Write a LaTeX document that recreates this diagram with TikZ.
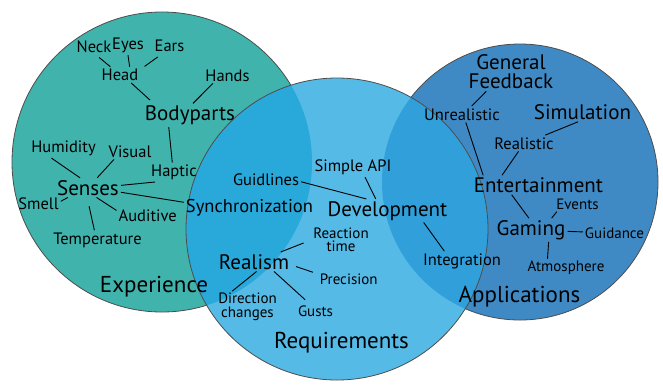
\documentclass[tikz,border=0pt]{standalone}
\usepackage{fontspec}
\setmainfont{PT Sans}
\definecolor{experience}{HTML}{41B3AD}
\definecolor{requirements}{HTML}{56BAE6}
\definecolor{applications}{HTML}{3F8AC5}
\definecolor{expreq}{HTML}{29A8DA}
\definecolor{reqapp}{HTML}{31A0DA}
\definecolor{rimgray}{HTML}{4D4D4D}

\begin{document}
\begin{tikzpicture}[x=1pt,y=-1pt,
    rim/.style={draw=rimgray,line width=0.8pt},
    topic/.style={font=\fontsize{23}{25}\selectfont,inner sep=2pt,anchor=base},
    branch/.style={font=\fontsize{21}{23}\selectfont,inner sep=2pt,anchor=base},
    sync/.style={font=\fontsize{18.5}{20}\selectfont,inner sep=2pt,anchor=base},
    leaf/.style={font=\fontsize{16.5}{18}\selectfont,inner sep=2pt,anchor=base},
    twig/.style={font=\fontsize{15}{13.5}\selectfont,inner sep=2pt,anchor=base},
    link/.style={line width=0.9pt}]
      \useasboundingbox (0,0) rectangle (663,384);
      % circles
      \fill[experience] (162,162) circle[radius=150pt];
      \draw[rim] (162,162) circle[radius=150pt];
      \fill[applications] (520,182) circle[radius=138pt];
      \draw[rim] (520,182) circle[radius=138pt];
      \fill[requirements] (337,229) circle[radius=151pt];
      \begin{scope}
        \clip (337,229) circle[radius=151pt];
        \fill[expreq] (162,162) circle[radius=150pt];
        \fill[reqapp] (520,182) circle[radius=138pt];
      \end{scope}
      \draw[rim] (337,229) circle[radius=151pt];
      % Experience
      \node[topic] (experience) at (154,292.3) {Experience};
      \node[branch] (bodyparts) at (190,120.5) {Bodyparts};
      \node[leaf] (head) at (120,80.5) {Head};
      \node[leaf] (neck) at (94,52.5) {Neck};
      \node[leaf] (eyes) at (128,49.5) {Eyes};
      \node[leaf] (ears) at (169.5,51) {Ears};
      \node[leaf] (hands) at (227.5,81) {Hands};
      \node[leaf] (haptic) at (174,176.5) {Haptic};
      \node[branch] (senses) at (88,195) {Senses};
      \node[leaf] (humidity) at (63.5,152.5) {Humidity};
      \node[leaf] (visual) at (130,157) {Visual};
      \node[leaf] (smell) at (38.5,209) {Smell};
      \node[leaf] (auditive) at (147.7,221.7) {Auditive};
      \node[leaf] (temperature) at (97.5,244) {Temperature};
      \draw[link,shorten <=4pt] (neck.-76) -- (head.140);
      \draw[link] (eyes.south) -- (head.40);
      \draw[link,shorten <=6pt,shorten >=5pt] (ears.-130) -- (head.15);
      \draw[link,shorten >=5pt] (head.-36) -- (bodyparts.162);
      \draw[link] (hands.-151) -- (bodyparts.76);
      \draw[link] (bodyparts.-151) -- (haptic.100);
      \draw[link] (humidity.-141) -- (senses.129);
      \draw[link] (visual.-153) -- (senses.47);
      \draw[link] (haptic.-153) -- (senses.4);
      \draw[link] (smell.5) -- (senses.-154);
      \draw[link,shorten <=9pt] (senses.-95) -- (temperature.108);
      \draw[link] (senses.-49) -- (auditive.170);
      % Requirements
      \node[topic] (requirements) at (341.5,348.3) {Requirements};
      \node[sync] (sync) at (249.5,212.7) {Synchronization};
      \node[branch] (development) at (387.5,216) {Development};
      \node[leaf] (guidlines) at (266,185.7) {Guidlines};
      \node[leaf] (simpleapi) at (353,171.7) {Simple API};
      \node[leaf] (integration) at (462,265) {Integration};
      \node[branch] (realism) at (254,269) {Realism};
      \node[twig,anchor=center,align=center] (reaction) at (341,240) {Reaction\\time};
      \node[twig] (precision) at (348.7,284) {Precision};
      \node[twig] (gusts) at (315.5,316) {Gusts};
      \node[twig,anchor=center,align=center] (direction) at (247.5,307) {Direction\\changes};
      \draw[link] (senses.-8) -- (sync.175);
      \draw[link] (guidlines.-3) -- (development.151);
      \draw[link] (simpleapi.-39) -- (development.135);
      \draw[link] (development.-18) -- (integration.151);
      \draw[link,shorten >=8pt] (realism.20) -- (reaction.west);
      \draw[link,shorten <=5pt,shorten >=5pt] (realism.-5) -- (precision.171);
      \draw[link,shorten >=5pt] (realism.-26) -- (gusts.131);
      \draw[link] (realism.-75) -- (direction.134);
      % Applications
      \node[topic] (applications) at (519.5,302) {Applications};
      \node[branch,anchor=center,align=center,font=\fontsize{21}{19}\selectfont] (feedback) at (511,72) {General\\Feedback};
      \node[leaf] (unrealistic) at (462,120) {Unrealistic};
      \node[branch] (simulation) at (582.5,119.3) {Simulation};
      \node[leaf] (realistic) at (524,149) {Realistic};
      \node[branch] (entertainment) at (538.5,192.3) {Entertainment};
      \node[twig] (events) at (577.5,209.3) {Events};
      \node[branch] (gaming) at (531,235.3) {Gaming};
      \node[twig] (guidance) at (614.5,238.3) {Guidance};
      \node[twig] (atmosphere) at (566,271.7) {Atmosphere};
      \draw[link] (feedback.-142) -- (unrealistic.40);
      \draw[link] (unrealistic.-65) -- (entertainment.170);
      \draw[link] (simulation.-114) -- (realistic.21);
      \draw[link] (realistic.-124) -- (entertainment.165);
      \draw[link] (entertainment.-160) -- (gaming.100);
      \draw[link] (gaming.30) -- (events.-160);
      \draw[link] (gaming) -- (guidance);
      \draw[link] (gaming.-34) -- (atmosphere.154);
    \end{tikzpicture}
\end{document}
